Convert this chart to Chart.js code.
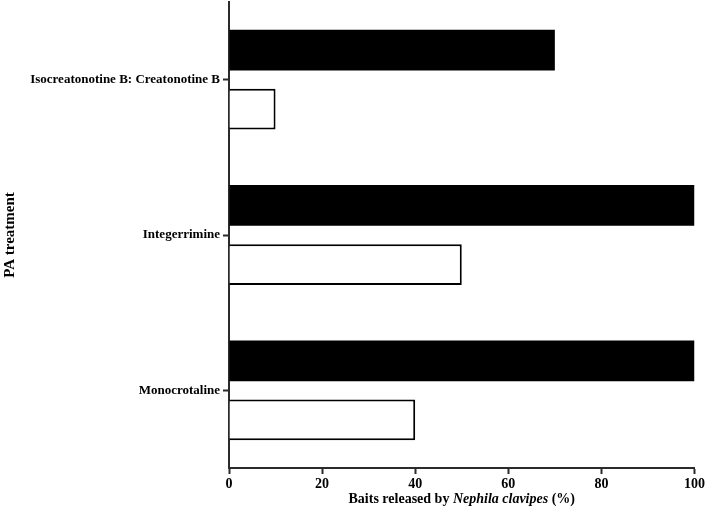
<!DOCTYPE html>
<html lang="en">
<head>
    <meta charset="UTF-8">
    <title>Baits released by Nephila clavipes</title>
    <script src="https://cdn.jsdelivr.net/npm/chart.js"></script>
    <style>
        body {
            margin: 0;
            background: #ffffff;
        }
        .chart-box {
            width: 707px;
            height: 508px;
        }
    </style>
</head>
<body>
    <div class="chart-box">
        <canvas id="pa-chart"></canvas>
    </div>

    <script>
        // PA treatments and % of baits released
        const treatments = ["Isocreatonotine B: Creatonotine B", "Integerrimine", "Monocrotaline"];
        const blackSeries = [70, 100, 100];
        const whiteSeries = [10, 50, 40];
        const xTicks = [0, 20, 40, 60, 80, 100];

        const serif = "'Liberation Serif', 'Times New Roman', serif";
        const axisColor = "#2b2b2b";

        // x title has an italic species name, so draw it by hand
        const xTitlePlugin = {
            id: "xTitle",
            afterDraw(chart) {
                const ctx = chart.ctx;
                const parts = [
                    { text: "Baits released by ", font: "bold 14px " + serif },
                    { text: "Nephila clavipes", font: "italic bold 14px " + serif },
                    { text: " (%)", font: "bold 14px " + serif }
                ];
                ctx.save();
                let total = 0;
                parts.forEach(p => {
                    ctx.font = p.font;
                    p.w = ctx.measureText(p.text).width;
                    total += p.w;
                });
                const area = chart.chartArea;
                let x = (area.left + area.right) / 2 - total / 2;
                ctx.fillStyle = "#000";
                ctx.textBaseline = "middle";
                parts.forEach(p => {
                    ctx.font = p.font;
                    ctx.fillText(p.text, x, 499);
                    x += p.w;
                });
                ctx.restore();
            }
        };

        new Chart(document.getElementById("pa-chart"), {
            type: "bar",
            data: {
                labels: treatments,
                datasets: [
                    {
                        label: "Black",
                        data: blackSeries,
                        backgroundColor: "#000000",
                        borderWidth: 0
                    },
                    {
                        label: "White",
                        data: whiteSeries,
                        backgroundColor: "#ffffff",
                        borderColor: "#000000",
                        borderWidth: 2
                    }
                ]
            },
            options: {
                indexAxis: "y",
                responsive: true,
                maintainAspectRatio: false,
                animation: false,
                categoryPercentage: 0.76,
                barPercentage: 0.69,
                layout: { padding: { top: 2, right: 11, bottom: 0, left: 0 } },
                plugins: {
                    legend: { display: false },
                    tooltip: { enabled: false }
                },
                scales: {
                    x: {
                        min: 0,
                        max: 100,
                        afterBuildTicks: (axis) => {
                            axis.ticks = xTicks.map(v => ({ value: v }));
                        },
                        afterFit: (axis) => { axis.height = 40; },
                        grid: {
                            drawOnChartArea: false,
                            drawTicks: true,
                            tickLength: 6,
                            tickColor: axisColor,
                            tickWidth: 2
                        },
                        border: { color: axisColor, width: 2 },
                        ticks: {
                            color: "#000",
                            padding: 2,
                            font: { family: serif, size: 14, weight: "bold" }
                        }
                    },
                    y: {
                        afterFit: (axis) => {
                            axis.width = 229;
                            axis.paddingTop = 0;
                            axis.paddingBottom = 0;
                        },
                        grid: {
                            offset: false,
                            drawOnChartArea: false,
                            drawTicks: true,
                            tickLength: 6,
                            tickColor: axisColor,
                            tickWidth: 2
                        },
                        border: { color: axisColor, width: 2 },
                        ticks: {
                            color: "#000",
                            padding: 3,
                            font: { family: serif, size: 13, weight: "bold" }
                        },
                        title: {
                            display: true,
                            text: "PA treatment",
                            color: "#000",
                            padding: { top: 1, bottom: 0 },
                            font: { family: serif, size: 15, weight: "bold" }
                        }
                    }
                }
            },
            plugins: [xTitlePlugin]
        });
    </script>
</body>
</html>
